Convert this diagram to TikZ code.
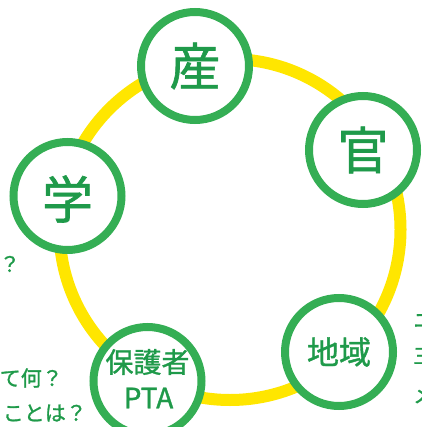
\documentclass[tikz,border=0pt]{standalone}
\usepackage{fontspec}
\setmainfont{Noto Sans CJK JP}
\newfontfamily\medfont[FakeBold=1.2]{Noto Sans CJK JP}
\definecolor{ringgreen}{HTML}{34AE54}
\definecolor{textgreen}{HTML}{1F9A4A}
\definecolor{ringyellow}{HTML}{FFE600}
\begin{document}
\begin{tikzpicture}[x=1pt,y=-1pt,
  member/.style={circle, draw=ringgreen, line width=8pt, fill=white, minimum size=108pt, inner sep=0pt},
  bigtext/.style={text=textgreen, inner sep=0pt, font=\medfont\fontsize{51}{51}\selectfont},
  midtext/.style={text=textgreen, inner sep=0pt, font=\medfont\fontsize{32}{32}\selectfont},
  smalltext/.style={text=textgreen, inner sep=0pt, font=\medfont\fontsize{28}{28}\selectfont},
  sidetext/.style={text=textgreen, inner sep=0pt, font=\medfont\fontsize{21}{21}\selectfont}]
\useasboundingbox (0,0) rectangle (421,427);
\node[circle, draw=ringyellow, line width=12pt, minimum size=341pt, inner sep=0pt] (ring) at (230,229.5) {};
% member circles
\node[member] (san) at (195,66) {};
\node[member] (kan) at (363,150) {};
\node[member] (gaku) at (67.5,196) {};
\node[member] (chiiki) at (339,352) {};
\node[member] (pta) at (147.5,381) {};
% labels
\node[bigtext] (sanT) at (san) {産};
\node[bigtext] (kanT) at (kan) {官};
\node[bigtext] (gakuT) at ([yshift=-3pt]gaku.center) {学};
\node[midtext] (chiikiT) at (chiiki) {地域};
\node[smalltext] (ptaA) at (147.5,362) {保護者};
\node[smalltext] (ptaB) at (148.5,398) {PTA};
% side texts (cut by the edge)
\node[sidetext, anchor=east] (q1) at (20.5,264) {？};
\node[sidetext, anchor=east] (q2) at (63,378) {て何？};
\node[sidetext, anchor=east] (q3) at (87,413) {ことは？};
\node[sidetext, anchor=west] (r1) at (413,321) {ニ};
\node[sidetext, anchor=west] (r2) at (413,356) {三};
\node[sidetext, anchor=west] (r3) at (413,395) {メ};
\end{tikzpicture}
\end{document}
